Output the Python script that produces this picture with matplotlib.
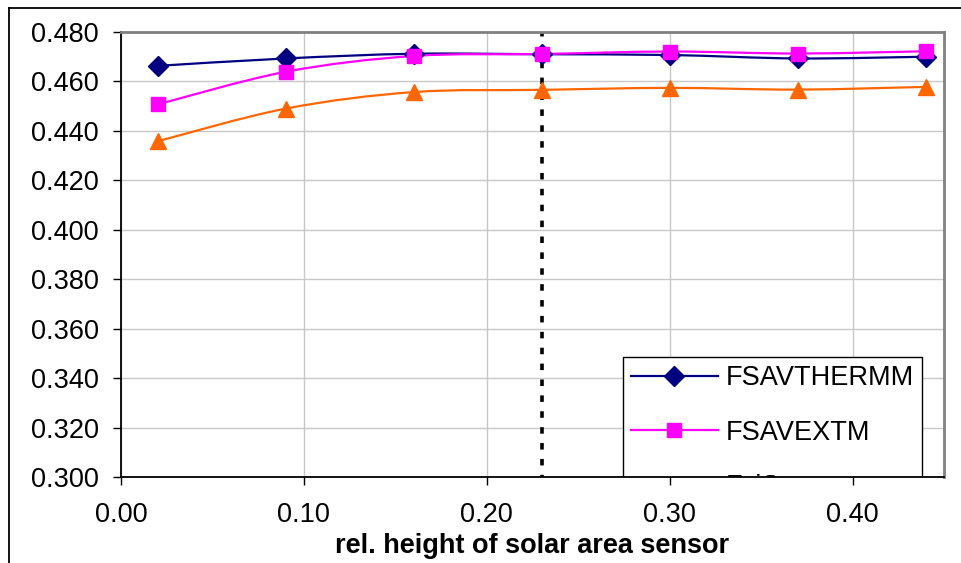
import numpy as np
import matplotlib
matplotlib.use("Agg")
import matplotlib.pyplot as plt
from matplotlib.path import Path
from matplotlib.patches import PathPatch
from matplotlib.lines import Line2D

plt.rcParams['font.family'] = ['Liberation Sans', 'DejaVu Sans']

# ---- data ----
x_vals = [0.02, 0.09, 0.16, 0.23, 0.30, 0.37, 0.44]
fsavthermm = [0.4663, 0.4693, 0.4712, 0.4710, 0.4707, 0.4693, 0.4700]
fsavextm = [0.4507, 0.4639, 0.4703, 0.4711, 0.4721, 0.4713, 0.4722]
third = [0.4358, 0.4490, 0.4557, 0.4566, 0.4574, 0.4567, 0.4578]
series_names = ["FSAVTHERMM", "FSAVEXTM", "FxiS"]
marker_x = 0.23
y_ticks = [0.300, 0.320, 0.340, 0.360, 0.380, 0.400, 0.420, 0.440, 0.460, 0.480]
x_ticks = [0.00, 0.10, 0.20, 0.30, 0.40]
x_label = "rel. height of solar area sensor"

colors = ["#000080", "#FF00FF", "#FF6600"]
markers = ["D", "s", "^"]
msizes = [10, 10.5, 11]
FS = 19.5

W, H = 962, 563
fig = plt.figure(figsize=(W / 100, H / 100), dpi=100)
ax = fig.add_axes([121 / W, 1 - 477 / H, (944 - 121) / W, (477 - 32) / H])
ax.set_xlim(0, 0.45)
ax.set_ylim(0.300, 0.480)


def smooth_path(xs, ys):
    pts = np.column_stack([xs, ys])
    n = len(pts)
    verts = [pts[0]]
    codes = [Path.MOVETO]
    for i in range(n - 1):
        p0 = pts[i - 1] if i > 0 else pts[i]
        p1 = pts[i]
        p2 = pts[i + 1]
        p3 = pts[i + 2] if i + 2 < n else pts[i + 1]
        c1 = p1 + (p2 - p0) / 6.0
        c2 = p2 - (p3 - p1) / 6.0
        verts += [c1, c2, p2]
        codes += [Path.CURVE4] * 3
    return Path(np.array(verts), codes)


handles = []
for ys, c, m, ms, name in zip([fsavthermm, fsavextm, third], colors, markers, msizes, series_names):
    patch = PathPatch(smooth_path(x_vals, ys), facecolor="none", edgecolor=c, lw=1.6, zorder=3)
    ax.add_patch(patch)
    ax.plot(x_vals, ys, linestyle="none", marker=m, color=c, markersize=ms, zorder=4)
    handles.append(Line2D([], [], color=c, lw=1.6, marker=m, markersize=ms, label=name))

ax.axvline(marker_x, color="black", lw=2.6, linestyle=(1.2, (1.8, 2.6)), zorder=2)

ax.set_yticks(y_ticks)
ax.set_xticks(x_ticks)
ax.set_yticklabels([f"{v:.3f}" for v in y_ticks])
ax.set_xticklabels([f"{v:.2f}" for v in x_ticks])
ax.tick_params(axis="both", direction="out", length=6, width=1, labelsize=FS, color="black")
ax.tick_params(axis="y", pad=10)
ax.tick_params(axis="x", pad=12)
ax.grid(True, color="#c8c8c8", lw=1)
ax.set_axisbelow(True)

for s in ["left", "bottom"]:
    ax.spines[s].set_color("black")
    ax.spines[s].set_linewidth(1.3)
for s in ["top", "right"]:
    ax.spines[s].set_color("#808080")
    ax.spines[s].set_linewidth(2)
for s in ax.spines.values():
    s.set_zorder(6)

ax.set_xlabel(x_label, fontsize=FS, fontweight="bold")
ax.xaxis.set_label_coords(0.5, (477 - 546) / 445)
ax.xaxis.label.set_va("center")

leg = ax.legend(handles=handles, loc="upper left",
                bbox_to_anchor=((623 - 121) / 823, (477 - 357) / 445),
                fontsize=FS, frameon=True, fancybox=False, framealpha=1,
                edgecolor="black", handlelength=3.2, handletextpad=0.3,
                labelspacing=1.05, borderpad=0.3, borderaxespad=0)
leg.get_frame().set_linewidth(1)
leg.set_zorder(5)
for a in leg.findobj():
    a.set_clip_on(True)
    a.set_clip_box(ax.bbox)

# outer chart frame
fig.add_artist(Line2D([9 / W, 1], [1 - 8 / H, 1 - 8 / H], color="black", lw=1.3))
fig.add_artist(Line2D([9 / W, 9 / W], [0, 1 - 8 / H], color="black", lw=1.3))

fig.savefig("out.png", dpi=100)
